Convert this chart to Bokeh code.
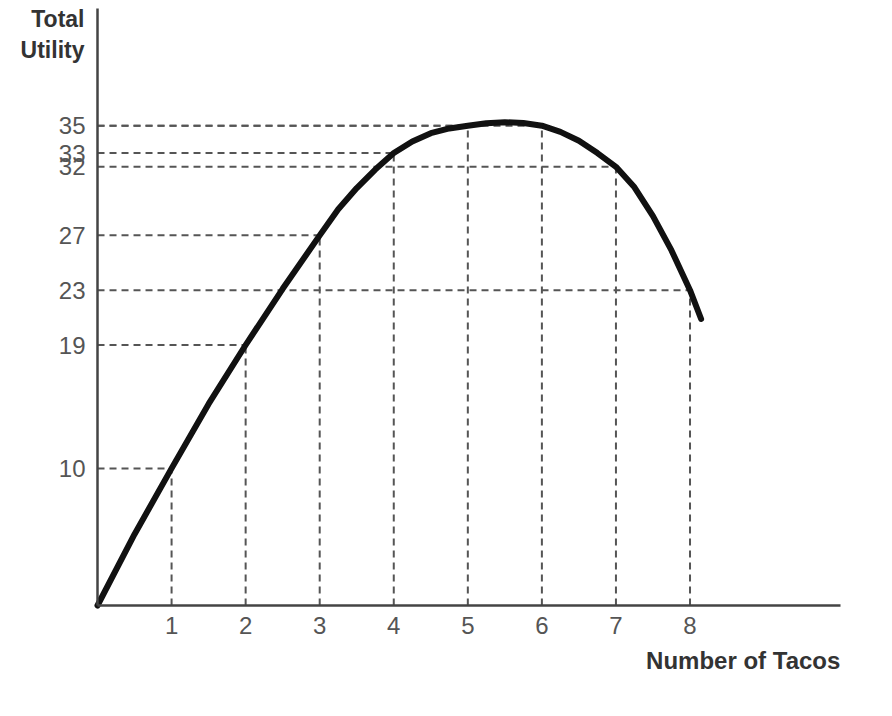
from bokeh.plotting import figure
from bokeh.models import Range1d, FixedTicker, Label
from bokeh.embed import file_html
from bokeh.resources import INLINE

# --- data ---
tacos = [1, 2, 3, 4, 5, 6, 7, 8]
total_utility = [10, 19, 27, 33, 35, 35, 32, 23]
y_ticks = [10, 19, 23, 27, 32, 33, 35]
x_ticks = [1, 2, 3, 4, 5, 6, 7, 8]

# points
curve_x = [0, 0.5, 1, 1.5, 2, 2.5, 3, 3.25, 3.5, 3.75, 4, 4.25, 4.5, 4.75, 5,
           5.25, 5.5, 5.75, 6, 6.25, 6.5, 6.75, 7, 7.25, 7.5, 7.75, 8, 8.15]
curve_y = [0, 5.2, 10, 14.7, 19, 23.1, 27, 28.9, 30.45, 31.8, 33, 33.85, 34.45, 34.8, 35,
           35.18, 35.25, 35.2, 35, 34.55, 33.9, 33.0, 32, 30.5, 28.4, 25.9, 23, 20.9]

# axis extents (data units)
X_AXIS_END = 10.03
Y_AXIS_END = 43.55

W, H = 876, 700
p = figure(width=W, height=H, output_backend="svg", toolbar_location=None,
           x_range=Range1d(-1.31, 10.518), y_range=Range1d(-6.93, 44.13),
           min_border_left=0, min_border_right=0, min_border_top=0, min_border_bottom=0)
p.title.visible = False
p.background_fill_color = "white"
p.border_fill_color = "white"
p.outline_line_color = None
p.xgrid.visible = False
p.ygrid.visible = False

dash_color = "#555555"
# vertical guides
p.segment(x0=tacos, y0=[0] * len(tacos), x1=tacos, y1=total_utility,
          line_color=dash_color, line_width=2, line_dash="7 5")
# horizontal guides
p.segment(x0=[0] * len(tacos), y0=total_utility, x1=tacos, y1=total_utility,
          line_color=dash_color, line_width=2, line_dash="7 5")

# the total utility curve
p.line(curve_x, curve_y, line_color="#111111", line_width=6,
       line_cap="round", line_join="round")

for ax, ticks, bnds in ((p.xaxis[0], x_ticks, (0, X_AXIS_END)),
                        (p.yaxis[0], y_ticks, (0, Y_AXIS_END))):
    ax.fixed_location = 0
    ax.bounds = bnds
    ax.ticker = FixedTicker(ticks=ticks)
    ax.major_tick_line_color = None
    ax.minor_tick_line_color = None
    ax.major_tick_out = 0
    ax.major_tick_in = 0
    ax.axis_line_color = "#444444"
    ax.axis_line_width = 2.5
    ax.major_label_text_font = "Liberation Sans"
    ax.major_label_text_font_size = "24px"
    ax.major_label_text_color = "#555555"
    ax.major_label_standoff = 12

title_font = "Liberation Sans"
p.add_layout(Label(x=X_AXIS_END, y=-4.0, text="Number of Tacos", text_align="right",
                   text_baseline="middle", text_font=title_font, text_font_style="bold",
                   text_font_size="24px", text_color="#333333"))
p.add_layout(Label(x=-0.176, y=42.8, text="Total", text_align="right",
                   text_baseline="middle", text_font=title_font, text_font_style="bold",
                   text_font_size="23px", text_color="#333333"))
p.add_layout(Label(x=-0.176, y=40.5, text="Utility", text_align="right",
                   text_baseline="middle", text_font=title_font, text_font_style="bold",
                   text_font_size="23px", text_color="#333333"))

open("out.html", "w").write(file_html(p, INLINE))
